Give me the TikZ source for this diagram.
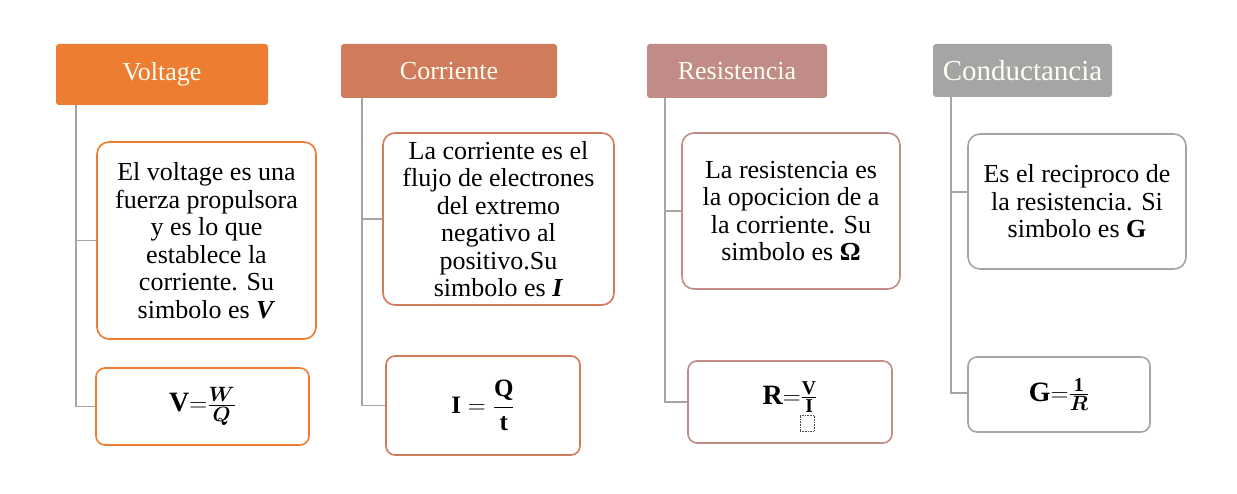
\documentclass[tikz,border=0pt]{standalone}
\usepackage{fontspec}
\usepackage{amsmath,bm}
\setmainfont{Liberation Serif}
\definecolor{cA}{HTML}{ED7D31}
\definecolor{cB}{HTML}{D17B5D}
\definecolor{cC}{HTML}{C18C87}
\definecolor{cD}{HTML}{A5A5A5}
\definecolor{lineg}{HTML}{A5A5A5}
\begin{document}
\begin{tikzpicture}[x=1pt,y=-1pt,
  header/.style={draw=none,fill=#1,rounded corners=3pt,text=white!95!yellow,
    font=\fontsize{26}{28}\selectfont,inner sep=0pt},
  infobox/.style={draw=#1,line width=1.6pt,rounded corners=12pt,fill=white,
    font=\fontsize{26}{27.5}\selectfont,align=center,inner sep=0pt},
  formbox/.style={draw=#1,line width=1.6pt,rounded corners=9pt,fill=white,
    font=\fontsize{28}{30}\selectfont,align=center,inner sep=0pt},
  conn/.style={draw=lineg,line width=1.8pt}]
\useasboundingbox (0,0) rectangle (1237,494);
% headers
\node[header=cA,minimum width=212pt,minimum height=61pt] (h1) at (162,74.5) {Voltage};
\node[header=cB,minimum width=216pt,minimum height=54pt] (h2) at (449,71) {Corriente};
\node[header=cC,minimum width=180pt,minimum height=54pt] (h3) at (737,71) {Resistencia};
\node[header=cD,minimum width=179pt,minimum height=53pt,font=\fontsize{29}{30}\selectfont] (h4) at (1022.5,70.5) {Conductancia};
% trunk tops
\coordinate (t1) at (76,105);
\coordinate (t2) at (362,98);
\coordinate (t3) at (665,98);
\coordinate (t4) at (951,97);
% info boxes
\node[infobox=cA,minimum width=219pt,minimum height=197pt] (b1) at (206.5,240.5)
  {El voltage es una\\fuerza propulsora\\y es lo que\\establece la\\corriente. Su\\simbolo es \textbf{\textit{V}}};
\node[infobox=cB,minimum width=231pt,minimum height=172pt] (b2) at (498.5,219)
  {La corriente es el\\flujo de electrones\\del extremo\\negativo al\\positivo.Su\\simbolo es \textbf{\textit{I}}};
\node[infobox=cC,minimum width=218pt,minimum height=156pt] (b3) at (791,211)
  {La resistencia es\\la opocicion de a\\la corriente. Su\\simbolo es \textbf{Ω}};
\node[infobox=cD,minimum width=218pt,minimum height=135pt] (b4) at (1077,201.5)
  {Es el reciproco de\\la resistencia. Si\\simbolo es \textbf{G}};
% formula boxes
\node[formbox=cA,minimum width=213pt,minimum height=77pt] (f1) at (202.5,406.5)
  {$\mathbf{V}{=}\frac{\bm{W}}{\bm{Q}}$};
\node[formbox=cB,minimum width=194pt,minimum height=99pt,font=\fontsize{25}{27}\selectfont] (f2) at (483,405.5)
  {$\mathbf{I} = \dfrac{\mathbf{Q}}{\mathbf{t}}$};
\node[formbox=cC,minimum width=204pt,minimum height=82pt] (f3) at (790,402)
  {};
\node[font=\fontsize{28}{30}\selectfont] (f3t) at (790,397) {$\mathbf{R}{=}\frac{\mathbf{V}}{\mathbf{I}}$};
\node[draw=black!70,densely dotted,line width=0.6pt,minimum width=14pt,minimum height=16pt,inner sep=0pt] (ph) at (807,423) {};
\node[formbox=cD,minimum width=182pt,minimum height=75pt] (f4) at (1059,394.5)
  {$\mathbf{G}{=}\frac{\mathbf{1}}{\bm{R}}$};
% connectors
\draw[conn] (t1) |- (b1.west);
\draw[conn] (t1) |- (f1.west);
\draw[conn] (t2) |- (b2.west);
\draw[conn] (t2) |- (f2.west);
\draw[conn] (t3) |- (b3.west);
\draw[conn] (t3) |- (f3.west);
\draw[conn] (t4) |- ([yshift=9.5pt]b4.west);
\draw[conn] (t4) |- ([yshift=1.5pt]f4.west);
\end{tikzpicture}
\end{document}
